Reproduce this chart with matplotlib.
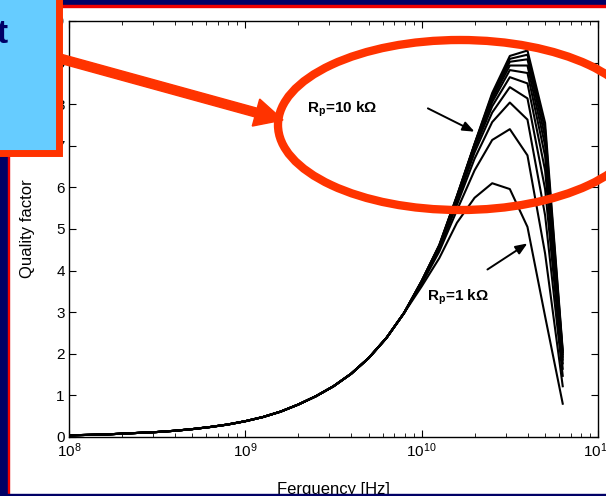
import numpy as np
import matplotlib
matplotlib.use('Agg')
import matplotlib.pyplot as plt
from matplotlib.patches import Rectangle, Ellipse, FancyArrow

plt.rcParams['font.family'] = ['Liberation Sans', 'DejaVu Sans']
plt.rcParams['mathtext.fontset'] = 'custom'
plt.rcParams['mathtext.rm'] = 'Liberation Sans:bold'
plt.rcParams['mathtext.bf'] = 'Liberation Sans:bold'

# log10 of frequency where all curves coincide
exp_common = [8.0, 8.1, 8.2, 8.3, 8.4, 8.5, 8.6, 8.7, 8.8, 8.9,
              9.0, 9.1, 9.2, 9.3, 9.4, 9.5, 9.6, 9.7, 9.8, 9.9]
q_common = [0.04, 0.05, 0.06, 0.08, 0.10, 0.12, 0.15, 0.19, 0.24, 0.30,
            0.38, 0.48, 0.61, 0.78, 0.98, 1.22, 1.52, 1.90, 2.38, 2.98]

# log10 of frequency where the curves split up
exp_split = [10.0, 10.1, 10.2, 10.3, 10.4, 10.5, 10.6, 10.7, 10.8]
rp_kohm = [1, 2, 3, 4, 5, 6, 7, 8, 9, 10]
q_split = [
    [3.62, 4.30, 5.15, 5.75, 6.10, 5.96, 5.05, 2.90, 0.80],
    [3.68, 4.46, 5.45, 6.41, 7.14, 7.40, 6.77, 4.41, 1.22],
    [3.71, 4.52, 5.58, 6.69, 7.57, 8.04, 7.63, 5.33, 1.47],
    [3.72, 4.55, 5.65, 6.84, 7.80, 8.41, 8.14, 5.96, 1.64],
    [3.73, 4.57, 5.70, 6.92, 7.95, 8.65, 8.50, 6.41, 1.77],
    [3.74, 4.58, 5.73, 6.98, 8.05, 8.82, 8.75, 6.75, 1.86],
    [3.74, 4.59, 5.76, 7.02, 8.12, 8.93, 8.93, 7.01, 1.93],
    [3.75, 4.60, 5.78, 7.03, 8.18, 9.02, 9.08, 7.21, 1.99],
    [3.75, 4.61, 5.79, 7.04, 8.23, 9.09, 9.19, 7.39, 2.04],
    [3.75, 4.62, 5.80, 7.05, 8.27, 9.16, 9.29, 7.55, 2.08],
]

W, H = 606, 496
fig = plt.figure(figsize=(W / 100, H / 100), dpi=100)
ax = fig.add_axes([69 / W, 1 - 437 / H, (598 - 69) / W, (437 - 21) / H])

for rp, qs in zip(rp_kohm, q_split):
    f = 10 ** np.array(exp_common + exp_split)
    ax.plot(f, q_common + qs, color='black', lw=1.5)

ax.set_xscale('log')
ax.set_xlim(1e8, 1e11)
ax.set_ylim(0, 10)
ax.set_yticks(range(0, 11))
ax.tick_params(which='both', direction='in', top=True, right=True, labelsize=11)
ax.tick_params(which='major', length=5, pad=3)
ax.tick_params(which='minor', length=3)
ax.set_ylabel('Quality factor', fontsize=12, labelpad=9)
ax.set_xlabel('Ferguency [Hz]', fontsize=12, labelpad=16)
for s in ax.spines.values():
    s.set_linewidth(1.0)

ax.text(2.24e9, 7.81, r'R$_{\rm p}$=10 k$\Omega$', fontsize=11, fontweight='bold')
ax.text(1.07e10, 3.29, r'R$_{\rm p}$=1 k$\Omega$', fontsize=11, fontweight='bold')
ax.annotate('', xy=(2.06e10, 7.31), xytext=(1.05e10, 7.93),
            arrowprops=dict(arrowstyle='-|>,head_length=0.7,head_width=0.28', color='black', lw=1.4))
ax.annotate('', xy=(4.1e10, 4.69), xytext=(2.29e10, 3.99),
            arrowprops=dict(arrowstyle='-|>,head_length=0.7,head_width=0.28', color='black', lw=1.4))

# slide decorations on top, in pixel units
navy = '#000066'
red = '#FF3300'
ov = fig.add_axes([0, 0, 1, 1], zorder=10)
ov.set_xlim(0, W)
ov.set_ylim(H, 0)
ov.axis('off')
ov.patch.set_alpha(0)

ov.add_patch(Rectangle((0, 0), 7.5, H, color=navy))
ov.add_patch(Rectangle((7.5, 0), 1.8, H, color='#EE0000'))
ov.add_patch(Rectangle((0, 0), W, 5, color=navy))
ov.add_patch(Rectangle((0, 5), W, 1.8, color='#EE0000'))
ov.add_patch(Rectangle((0, 493.5), W, 3, color=navy))

ov.add_patch(Ellipse((460, 125), 364, 170, fill=False, edgecolor=red, lw=6))
ov.add_patch(FancyArrow(58, 58, 225, 62, width=9, head_width=28, head_length=28,
                        length_includes_head=True, color=red))
ov.add_patch(Rectangle((-20, -20), 78.5, 172.5, facecolor='#66CCFF', edgecolor=red, lw=5))
ov.text(8, 43, 't', fontsize=24, fontweight='bold', color=navy, ha='right', va='baseline')

fig.savefig('out.png', dpi=100)
